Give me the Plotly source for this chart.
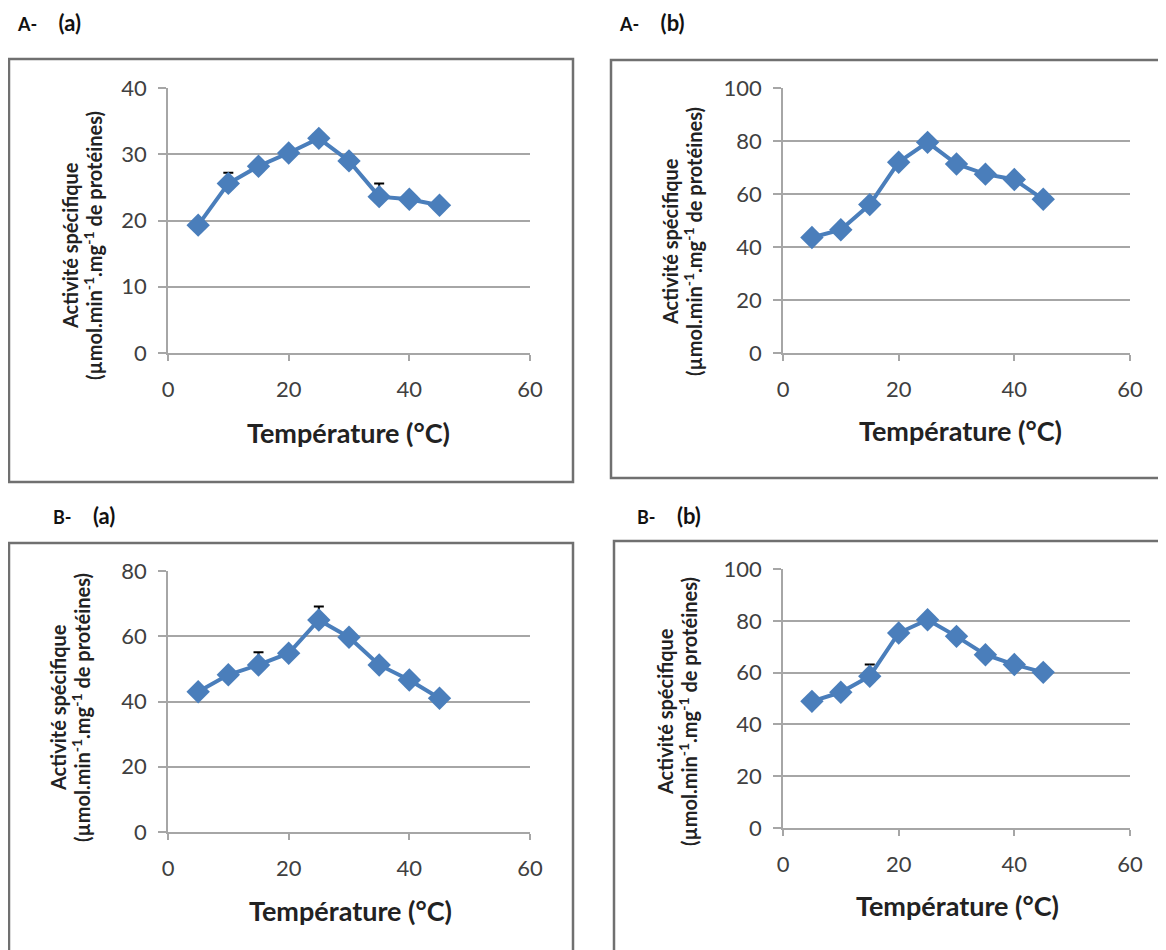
import plotly.graph_objects as go

W, H = 1166, 950
OFF = 8  # page body margin in the browser

temperature = [5, 10, 15, 20, 25, 30, 35, 40, 45]

aa_values = [19.3, 25.6, 28.2, 30.2, 32.4, 29.0, 23.6, 23.2, 22.3]
aa_errors = [0, 1.6, 0, 0, 0, 0, 2.0, 0, 0]

ab_values = [43.6, 46.5, 56.0, 72.0, 79.5, 71.3, 67.5, 65.5, 58.0]
ab_errors = [0, 0, 0, 0, 0, 0, 0, 0, 0]

ba_values = [43.0, 48.2, 51.2, 54.8, 65.0, 59.7, 51.2, 46.6, 41.0]
ba_errors = [0, 0, 3.9, 0, 4.1, 0, 0, 0, 0]

bb_values = [48.9, 52.4, 58.6, 75.3, 80.4, 74.0, 66.9, 63.1, 60.1]
bb_errors = [1.9, 0, 4.5, 0, 0, 0, 0, 0, 0]

x_ticks = [0, 20, 40, 60]
panel_letters = ["A-", "A-", "B-", "B-"]
panel_subs = ["(a)", "(b)", "(a)", "(b)"]
y_ranges = [[0, 40], [0, 100], [0, 80], [0, 100]]
y_dticks = [10, 20, 20, 20]
x_title = "Température (°C)"
y_title_1 = "Activité spécifique"
y_title_2 = "(µmol.min<sup>-1</sup>.mg<sup>-1</sup> de protéines)"

FONT = "Lato"
BLUE = "#4a7ebb"
GRID = "#a6a6a6"

# plot areas in pixels: (x0, x1, ytop, ybottom)
areas = [(168, 530, 88, 353), (783, 1130, 88, 353), (168, 530, 571, 832), (783, 1130, 569, 828)]
frames = [(9, 573, 59, 482), (611, 1200, 60, 478), (9, 573, 543, 1000), (614, 1200, 541, 1000)]
label_pos = [(15, 22), (617, 22), (51, 515), (635, 515)]
ytitle_pos = [(70, 93, 246), (670, 693, 242), (58, 81, 708), (665, 688, 712)]
xtitle_pos = [(348, 432), (960, 430), (350, 910), (957, 905)]

series = [(aa_values, aa_errors), (ab_values, ab_errors), (ba_values, ba_errors), (bb_values, bb_errors)]

def px(x):
    return (x - OFF) / W

def py(y):
    return 1 - (y - OFF) / H

fig = go.Figure()
layout = dict(
    width=W, height=H, margin=dict(l=0, r=0, t=0, b=0, pad=0, autoexpand=False),
    paper_bgcolor="white", plot_bgcolor="white", showlegend=False,
    font=dict(family=FONT, color="#404040"),
)
shapes = []
annotations = []

for i, ((vals, errs), (x0, x1, yt, yb)) in enumerate(zip(series, areas)):
    n = "" if i == 0 else str(i + 1)
    fig.add_trace(go.Scatter(
        x=temperature, y=vals, xaxis="x" + n, yaxis="y" + n,
        mode="lines+markers",
        line=dict(color=BLUE, width=4),
        marker=dict(symbol="diamond", size=18, color=BLUE),
        error_y=dict(type="data", symmetric=False, array=errs,
                     arrayminus=[0] * len(errs), color="black", thickness=2, width=5),
    ))
    layout["xaxis" + n] = dict(
        domain=[px(x0), px(x1)], anchor="y" + n, range=[0, 60], automargin=False,
        tickvals=x_ticks, showgrid=False, zeroline=False,
        showline=True, linecolor=GRID, linewidth=2,
        ticks="outside", ticklen=6, tickcolor=GRID, tickwidth=1.5,
        tickfont=dict(size=22, color="#404040", family=FONT),
        ticklabelstandoff=10,
    )
    layout["yaxis" + n] = dict(
        domain=[py(yb), py(yt)], anchor="x" + n, range=y_ranges[i], automargin=False,
        dtick=y_dticks[i], showgrid=True, gridcolor=GRID, gridwidth=1.5,
        zeroline=False, showline=True, linecolor=GRID, linewidth=1.5,
        ticks="outside", ticklen=8, tickcolor=GRID, tickwidth=1.5,
        tickfont=dict(size=22, color="#404040", family=FONT),
        ticklabelstandoff=7,
    )
    fx0, fx1, fy0, fy1 = frames[i]
    shapes.append(dict(type="rect", xref="paper", yref="paper",
                       x0=px(fx0), x1=px(fx1), y0=py(fy1), y1=py(fy0),
                       line=dict(color="#707070", width=2.5), layer="below"))
    lx, ly = label_pos[i]
    annotations.append(dict(x=px(lx), y=py(ly), xref="paper", yref="paper",
                            text="<b><span style='font-size:18px'>" + panel_letters[i]
                                 + "</span>&nbsp;&nbsp;&nbsp;&nbsp;" + panel_subs[i] + "</b>",
                            showarrow=False, xanchor="left", yanchor="middle",
                            font=dict(size=22, color="#111111", family=FONT)))
    t1x, t2x, ty = ytitle_pos[i]
    annotations.append(dict(x=px(t1x), y=py(ty), xref="paper", yref="paper",
                            text="<b>" + y_title_1 + "</b>", showarrow=False, textangle=-90,
                            xanchor="center", yanchor="middle",
                            font=dict(size=20, color="#222222", family=FONT)))
    annotations.append(dict(x=px(t2x), y=py(ty), xref="paper", yref="paper",
                            text="<b>" + y_title_2 + "</b>", showarrow=False, textangle=-90,
                            xanchor="center", yanchor="middle",
                            font=dict(size=20, color="#222222", family=FONT)))
    xx, xy = xtitle_pos[i]
    annotations.append(dict(x=px(xx), y=py(xy), xref="paper", yref="paper",
                            text="<b>" + x_title + "</b>", showarrow=False,
                            xanchor="center", yanchor="middle",
                            font=dict(size=27, color="#222222", family=FONT)))

layout["shapes"] = shapes
layout["annotations"] = annotations
fig.update_layout(**layout)
fig.write_html("out.html")
